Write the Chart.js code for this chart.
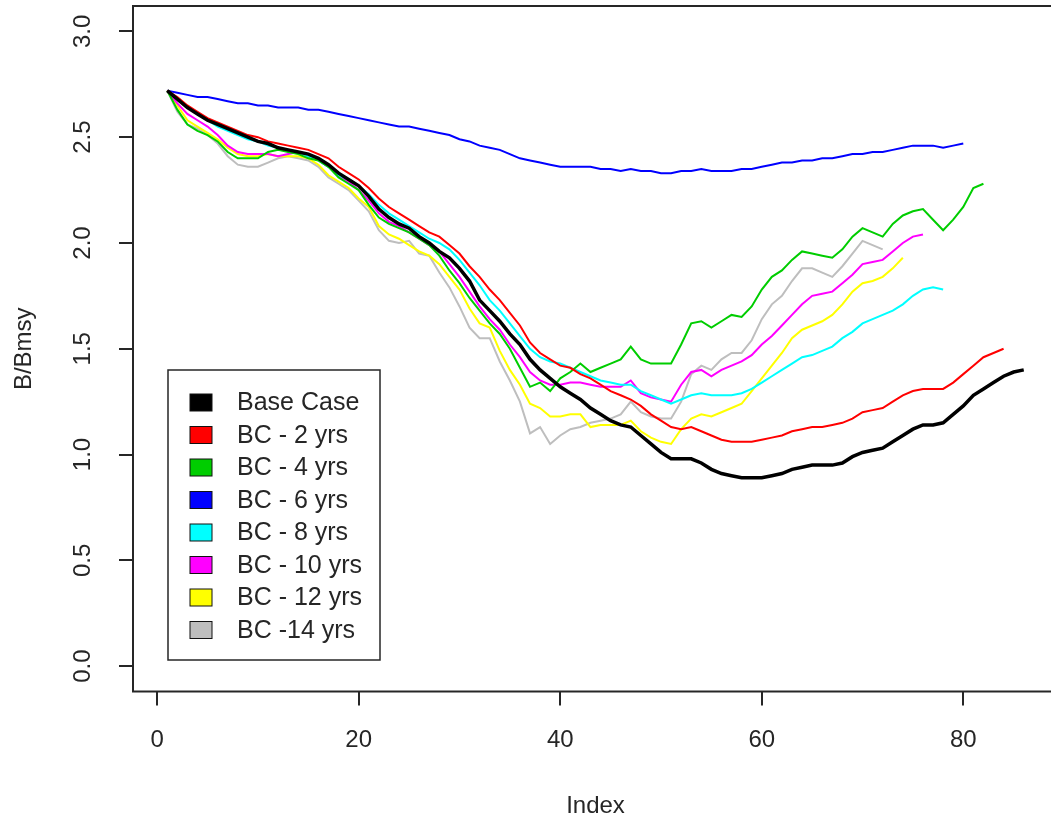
<!DOCTYPE html>
<html>
<head>
<meta charset="utf-8">
<script src="https://cdn.jsdelivr.net/npm/chart.js@4.4.1/dist/chart.umd.min.js"></script>
<style>
  html, body { margin: 0; padding: 0; background: #fff; overflow: hidden; }
  #wrap { width: 1060px; height: 824px; }
</style>
</head>
<body>
<div id="wrap"><canvas id="chart" width="1060" height="824"></canvas></div>
<script>
// B/Bmsy trajectories, one value per index step (Index = 1..n)
const baseCase = [
  2.72, 2.68, 2.64, 2.61, 2.58, 2.56, 2.54, 2.52, 2.50, 2.48,
  2.47, 2.45, 2.44, 2.43, 2.42, 2.40, 2.37, 2.33, 2.30, 2.27,
  2.22, 2.16, 2.12, 2.09, 2.07, 2.03, 2.00, 1.96, 1.93, 1.88,
  1.82, 1.73, 1.68, 1.63, 1.57, 1.52, 1.45, 1.40, 1.36, 1.32,
  1.29, 1.26, 1.22, 1.19, 1.16, 1.14, 1.13, 1.09, 1.05, 1.01,
  0.98, 0.98, 0.98, 0.96, 0.93, 0.91, 0.90, 0.89, 0.89, 0.89,
  0.90, 0.91, 0.93, 0.94, 0.95, 0.95, 0.95, 0.96, 0.99, 1.01,
  1.02, 1.03, 1.06, 1.09, 1.12, 1.14, 1.14, 1.15, 1.19, 1.23,
  1.28, 1.31, 1.34, 1.37, 1.39, 1.40
];
const bc2 = [
  2.72, 2.69, 2.65, 2.62, 2.59, 2.57, 2.55, 2.53, 2.51, 2.50,
  2.48, 2.47, 2.46, 2.45, 2.44, 2.42, 2.40, 2.36, 2.33, 2.30,
  2.26, 2.21, 2.17, 2.14, 2.11, 2.08, 2.05, 2.03, 1.99, 1.95,
  1.89, 1.84, 1.78, 1.73, 1.67, 1.61, 1.53, 1.48, 1.45, 1.42,
  1.41, 1.38, 1.36, 1.33, 1.30, 1.28, 1.26, 1.23, 1.19, 1.16,
  1.13, 1.12, 1.13, 1.11, 1.09, 1.07, 1.06, 1.06, 1.06, 1.07,
  1.08, 1.09, 1.11, 1.12, 1.13, 1.13, 1.14, 1.15, 1.17, 1.20,
  1.21, 1.22, 1.25, 1.28, 1.30, 1.31, 1.31, 1.31, 1.34, 1.38,
  1.42, 1.46, 1.48, 1.50
];
const bc4 = [
  2.72, 2.63, 2.56, 2.53, 2.51, 2.48, 2.43, 2.40, 2.40, 2.40,
  2.43, 2.44, 2.43, 2.42, 2.40, 2.39, 2.36, 2.31, 2.28, 2.25,
  2.18, 2.12, 2.09, 2.07, 2.05, 2.02, 1.99, 1.94, 1.87, 1.81,
  1.74, 1.68, 1.62, 1.57, 1.50, 1.41, 1.32, 1.34, 1.30, 1.36,
  1.39, 1.43, 1.39, 1.41, 1.43, 1.45, 1.51, 1.45, 1.43, 1.43,
  1.43, 1.52, 1.62, 1.63, 1.60, 1.63, 1.66, 1.65, 1.70, 1.78,
  1.84, 1.87, 1.92, 1.96, 1.95, 1.94, 1.93, 1.97, 2.03, 2.07,
  2.05, 2.03, 2.09, 2.13, 2.15, 2.16, 2.11, 2.06, 2.11, 2.17,
  2.26, 2.28
];
const bc6 = [
  2.72, 2.71, 2.70, 2.69, 2.69, 2.68, 2.67, 2.66, 2.66, 2.65,
  2.65, 2.64, 2.64, 2.64, 2.63, 2.63, 2.62, 2.61, 2.60, 2.59,
  2.58, 2.57, 2.56, 2.55, 2.55, 2.54, 2.53, 2.52, 2.51, 2.49,
  2.48, 2.46, 2.45, 2.44, 2.42, 2.40, 2.39, 2.38, 2.37, 2.36,
  2.36, 2.36, 2.36, 2.35, 2.35, 2.34, 2.35, 2.34, 2.34, 2.33,
  2.33, 2.34, 2.34, 2.35, 2.34, 2.34, 2.34, 2.35, 2.35, 2.36,
  2.37, 2.38, 2.38, 2.39, 2.39, 2.40, 2.40, 2.41, 2.42, 2.42,
  2.43, 2.43, 2.44, 2.45, 2.46, 2.46, 2.46, 2.45, 2.46, 2.47
];
const bc8 = [
  2.72, 2.68, 2.64, 2.61, 2.58, 2.55, 2.53, 2.51, 2.49, 2.48,
  2.46, 2.45, 2.44, 2.43, 2.41, 2.39, 2.36, 2.32, 2.30, 2.27,
  2.23, 2.18, 2.14, 2.11, 2.08, 2.05, 2.02, 2.00, 1.97, 1.92,
  1.86, 1.80, 1.73, 1.68, 1.62, 1.56, 1.50, 1.46, 1.44, 1.43,
  1.41, 1.39, 1.37, 1.35, 1.34, 1.33, 1.33, 1.30, 1.28, 1.26,
  1.24, 1.26, 1.28, 1.29, 1.28, 1.28, 1.28, 1.29, 1.31, 1.34,
  1.37, 1.40, 1.43, 1.46, 1.47, 1.49, 1.51, 1.55, 1.58, 1.62,
  1.64, 1.66, 1.68, 1.71, 1.75, 1.78, 1.79, 1.78
];
const bc10 = [
  2.72, 2.66, 2.61, 2.58, 2.55, 2.51, 2.46, 2.43, 2.42, 2.42,
  2.42, 2.41, 2.42, 2.43, 2.41, 2.39, 2.36, 2.32, 2.29, 2.25,
  2.20, 2.14, 2.10, 2.08, 2.05, 2.02, 1.99, 1.96, 1.90, 1.84,
  1.77, 1.70, 1.64, 1.59, 1.52, 1.46, 1.39, 1.35, 1.33, 1.33,
  1.34, 1.34, 1.33, 1.32, 1.32, 1.32, 1.35, 1.29, 1.27, 1.26,
  1.25, 1.33, 1.39, 1.40, 1.37, 1.40, 1.42, 1.44, 1.47, 1.52,
  1.56, 1.61, 1.66, 1.71, 1.75, 1.76, 1.77, 1.81, 1.85, 1.90,
  1.91, 1.92, 1.96, 2.00, 2.03, 2.04
];
const bc12 = [
  2.72, 2.65, 2.58, 2.55, 2.52, 2.49, 2.45, 2.42, 2.41, 2.41,
  2.42, 2.41, 2.41, 2.41, 2.40, 2.37, 2.32, 2.29, 2.26, 2.21,
  2.17, 2.08, 2.04, 2.02, 1.99, 1.96, 1.94, 1.90, 1.84, 1.78,
  1.69, 1.62, 1.60, 1.49, 1.40, 1.33, 1.24, 1.22, 1.18, 1.18,
  1.19, 1.19, 1.13, 1.14, 1.14, 1.14, 1.16, 1.11, 1.08, 1.06,
  1.05, 1.12, 1.17, 1.19, 1.18, 1.20, 1.22, 1.24, 1.30, 1.36,
  1.42, 1.48, 1.55, 1.59, 1.61, 1.63, 1.66, 1.71, 1.77, 1.81,
  1.82, 1.84, 1.88, 1.93
];
const bc14 = [
  2.72, 2.62, 2.56, 2.54, 2.51, 2.47, 2.41, 2.37, 2.36, 2.36,
  2.38, 2.40, 2.41, 2.40, 2.39, 2.36, 2.31, 2.28, 2.25, 2.20,
  2.15, 2.06, 2.01, 2.00, 2.01, 1.95, 1.94, 1.86, 1.79, 1.70,
  1.60, 1.55, 1.55, 1.44, 1.35, 1.25, 1.10, 1.13, 1.05, 1.09,
  1.12, 1.13, 1.15, 1.16, 1.17, 1.19, 1.25, 1.20, 1.18, 1.17,
  1.17, 1.25, 1.38, 1.42, 1.40, 1.45, 1.48, 1.48, 1.54, 1.64,
  1.71, 1.75, 1.82, 1.88, 1.88, 1.86, 1.84, 1.89, 1.95, 2.01,
  1.99, 1.97
];

const seriesLabels = ['Base Case', 'BC - 2 yrs', 'BC - 4 yrs', 'BC - 6 yrs',
                      'BC - 8 yrs', 'BC - 10 yrs', 'BC - 12 yrs', 'BC -14 yrs'];
const seriesValues = [baseCase, bc2, bc4, bc6, bc8, bc10, bc12, bc14];
const seriesColors = ['#000000', '#ff0000', '#00cd00', '#0000ff',
                      '#00ffff', '#ff00ff', '#ffff00', '#bebebe'];
const xTicks = [0, 20, 40, 60, 80];
const yTicks = [0, 0.5, 1, 1.5, 2, 2.5, 3];

const FONT = '"Liberation Sans", Arial, sans-serif';
const INK = '#262626';

// box round the plot region plus sideways y tick labels, base-graphics style
const framePlugin = {
  id: 'frame',
  afterDraw(chart) {
    const { ctx, chartArea: a } = chart;
    const y = chart.scales.y;
    ctx.save();
    ctx.strokeStyle = INK;
    ctx.lineWidth = 2;
    ctx.strokeRect(a.left, a.top, a.right - a.left, a.bottom - a.top);

    ctx.fillStyle = INK;
    ctx.font = `24px ${FONT}`;
    ctx.textAlign = 'center';
    ctx.textBaseline = 'alphabetic';
    yTicks.forEach(v => {
      ctx.save();
      ctx.translate(90, y.getPixelForValue(v));
      ctx.rotate(-Math.PI / 2);
      ctx.fillText(v.toFixed(1), 0, 0);
      ctx.restore();
    });
    ctx.restore();
  }
};

// boxed legend with filled swatches, lower left of the plot
const legendPlugin = {
  id: 'boxLegend',
  afterDraw(chart) {
    const { ctx } = chart;
    ctx.save();
    ctx.fillStyle = '#ffffff';
    ctx.fillRect(168, 370, 212, 290);
    ctx.strokeStyle = INK;
    ctx.lineWidth = 1.5;
    ctx.strokeRect(168, 370, 212, 290);
    ctx.font = `25px ${FONT}`;
    ctx.textBaseline = 'middle';
    ctx.textAlign = 'left';
    seriesLabels.forEach((label, k) => {
      const cy = 402.5 + k * 32.5;
      ctx.fillStyle = seriesColors[k];
      ctx.fillRect(190, cy - 8.5, 22, 17);
      ctx.strokeStyle = '#111';
      ctx.lineWidth = 1;
      ctx.strokeRect(190, cy - 8.5, 22, 17);
      ctx.fillStyle = INK;
      ctx.fillText(label, 237, cy + 1);
    });
    ctx.restore();
  }
};

const datasets = seriesLabels.map((label, k) => ({
  label,
  data: seriesValues[k].map((v, i) => ({ x: i + 1, y: v })),
  borderColor: seriesColors[k],
  borderWidth: k === 0 ? 3.5 : 2,
  pointRadius: 0,
  tension: 0,
  fill: false
}));

const axisGrid = { drawOnChartArea: false, drawTicks: true, tickLength: 14, color: INK, lineWidth: 2 };

new Chart(document.getElementById('chart'), {
  type: 'line',
  data: { datasets },
  options: {
    responsive: false,
    animation: false,
    devicePixelRatio: 1,
    layout: { padding: { top: 6, right: 2, left: 0, bottom: 0 } },
    plugins: { legend: { display: false }, tooltip: { enabled: false } },
    scales: {
      x: {
        type: 'linear',
        min: -2.4,
        max: 89.4,
        afterBuildTicks: s => { s.ticks = xTicks.map(v => ({ value: v })); },
        afterFit: s => { s.height = 132.5; },
        border: { display: false },
        grid: axisGrid,
        ticks: { font: { family: FONT, size: 24 }, color: INK, padding: 20, maxRotation: 0 },
        title: { display: true, text: 'Index', color: INK,
                 font: { family: FONT, size: 24 }, padding: { top: 0, bottom: 3 } }
      },
      y: {
        type: 'linear',
        min: -0.12,
        max: 3.12,
        afterBuildTicks: s => { s.ticks = yTicks.map(v => ({ value: v })); },
        afterFit: s => { s.width = 133; },
        border: { display: false },
        grid: axisGrid,
        ticks: { display: false },
        title: { display: true, text: 'B/Bmsy', color: INK,
                 font: { family: FONT, size: 24 }, padding: { top: 10, bottom: 0 } }
      }
    }
  },
  plugins: [framePlugin, legendPlugin]
});
</script>
</body>
</html>
